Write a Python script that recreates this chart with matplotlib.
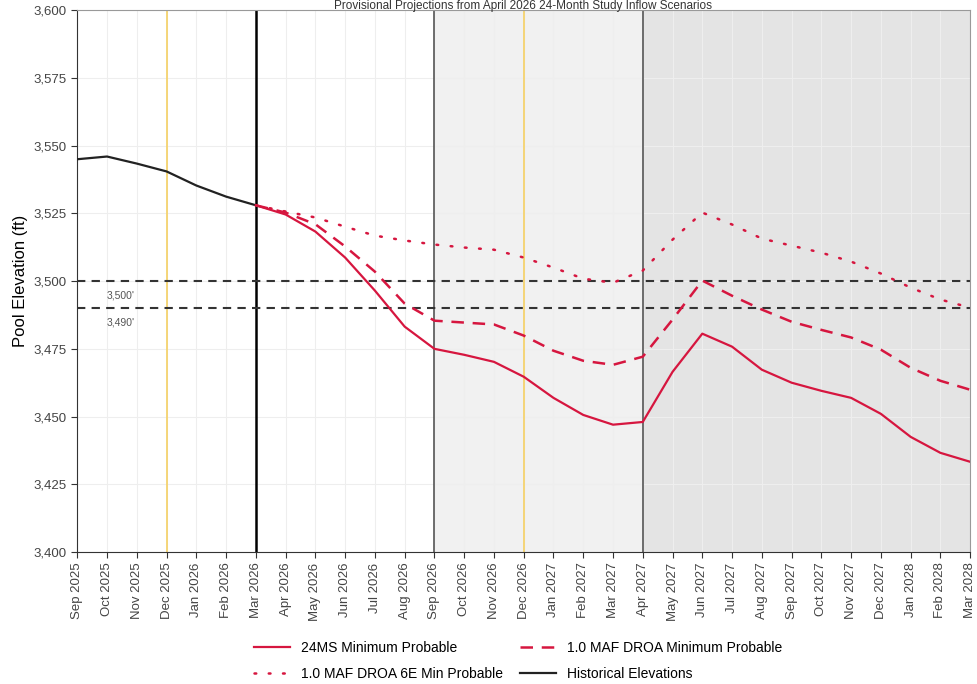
import numpy as np
import pandas as pd
import matplotlib
matplotlib.use("Agg")
import matplotlib.pyplot as plt

plt.rcParams['font.family'] = ['Liberation Sans', 'DejaVu Sans']

months = pd.date_range("2025-09-01", "2028-03-01", freq="MS")
month_labels = [d.strftime("%b %Y") for d in months]

historical = [3545.0, 3546.0, 3543.4, 3540.5, 3535.3, 3531.2, 3528.0]

min_probable_24ms = [3528.0, 3524.6, 3518.3, 3508.7, 3496.5, 3483.2, 3475.0,
                     3472.8, 3470.2, 3464.7, 3456.9, 3450.6, 3447.0, 3448.0,
                     3466.5, 3480.6, 3475.8, 3467.3, 3462.5, 3459.5, 3456.9,
                     3451.0, 3442.5, 3436.6, 3433.3]

droa_min_probable = [3528.0, 3525.3, 3521.0, 3512.8, 3503.5, 3491.7, 3485.4,
                     3484.7, 3484.0, 3479.9, 3474.3, 3470.6, 3469.1, 3472.1,
                     3485.8, 3500.2, 3494.6, 3489.5, 3485.0, 3482.0, 3479.2,
                     3474.7, 3468.0, 3463.2, 3459.9]

droa_6e_min_probable = [3528.0, 3525.7, 3523.5, 3520.1, 3516.8, 3515.0, 3513.5,
                        3512.4, 3511.6, 3508.7, 3505.0, 3500.9, 3499.4, 3503.9,
                        3515.3, 3525.3, 3520.9, 3515.7, 3513.1, 3510.5, 3507.2,
                        3502.8, 3497.6, 3493.2, 3490.2]

thresholds = [3500, 3490]
threshold_labels = ["3,500'", "3,490'"]

red = "#d6163f"

x = np.arange(len(months))
x_hist = x[:len(historical)]
x_proj = x[len(historical) - 1:]

fig = plt.figure(figsize=(9.78, 6.84), dpi=100)
ax = fig.add_axes([0.079, 0.193, 0.913, 0.792])

# shaded periods
ax.axvspan(12, 19, color="#f1f1f1", zorder=0, lw=0)
ax.axvspan(19, 30, color="#e4e4e4", zorder=0, lw=0)

ax.grid(True, color="#eeeeee", lw=0.8, zorder=0.5)
ax.set_axisbelow(True)

# reference verticals
for xv in (3, 15):
    ax.axvline(xv, color="#f5d36e", lw=1.3, zorder=1)
ax.axvline(6, color="black", lw=1.8, zorder=1)
for xv in (12, 19):
    ax.axvline(xv, color="#555555", lw=1.2, zorder=1)

for t, lab in zip(thresholds, threshold_labels):
    ax.axhline(t, color="#333333", ls=(0, (4, 3)), lw=1.5, zorder=2)
    ax.text(1.45, t - 5.2, lab, fontsize=7.5, color="#555555", va="center",
            ha="center")

ax.plot(x_hist, historical, color="#222222", lw=1.6, zorder=3,
        label="Historical Elevations")
ax.plot(x_proj, min_probable_24ms, color=red, lw=1.6, zorder=4,
        label="24MS Minimum Probable")
ax.plot(x_proj, droa_min_probable, color=red, lw=1.8, ls=(0, (5, 3.5)),
        zorder=4, label="1.0 MAF DROA Minimum Probable")
ax.plot(x_proj, droa_6e_min_probable, color=red, lw=1.8, ls=(0, (0.7, 5)),
        dash_capstyle="round", zorder=4, label="1.0 MAF DROA 6E Min Probable")

ax.set_xlim(0, len(months) - 1)
ax.set_ylim(3400, 3600)
ax.set_xticks(x)
ax.set_xticklabels(month_labels, rotation=90, fontsize=9.5, color="#444444")
ax.set_yticks(np.arange(3400, 3601, 25))
ax.set_yticklabels([f"{v:,}" for v in range(3400, 3601, 25)], fontsize=9.5,
                   color="#444444")
ax.tick_params(length=4, color="#333333")
ax.set_ylabel("Pool Elevation (ft)", fontsize=12)

for s in ("left", "bottom"):
    ax.spines[s].set_color("#333333")
ax.spines["top"].set_color("#999999")
ax.spines["right"].set_color("#999999")

fig.text(0.535, 0.9995, "Provisional Projections from April 2026 24-Month Study Inflow Scenarios",
         ha="center", va="top", fontsize=8.5, color="#333333")

handles, labels = ax.get_legend_handles_labels()
order = [1, 3, 2, 0]
fig.legend([handles[i] for i in order], [labels[i] for i in order],
           loc="lower center", bbox_to_anchor=(0.53, -0.014), ncol=2,
           frameon=False, fontsize=10, handlelength=2.6, columnspacing=1.2,
           labelspacing=0.9)

fig.savefig("out.png", dpi=100)
